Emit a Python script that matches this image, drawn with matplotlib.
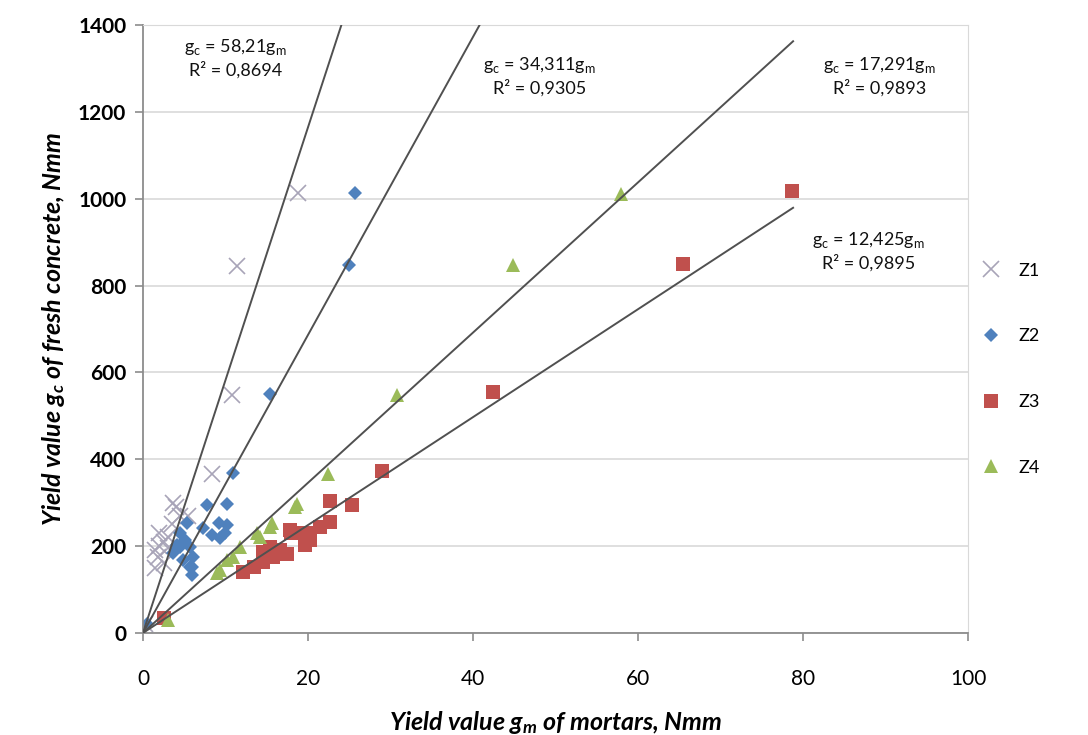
import numpy as np
import matplotlib.pyplot as plt

plt.rcParams['font.family'] = ['Lato', 'DejaVu Sans']
plt.rcParams['mathtext.fontset'] = 'custom'
plt.rcParams['mathtext.rm'] = 'Lato'
plt.rcParams['mathtext.it'] = 'Lato:italic:bold'
plt.rcParams['mathtext.bf'] = 'Lato:bold'

# Z1
z1_x = [18.8, 11.4, 10.8, 8.4, 3.6, 1.5, 1.8, 2.0, 2.5, 2.0, 3.0, 3.5, 4.5, 5.5, 4.0, 1.5, 2.5, 3.0, 0.3]
z1_y = [1013, 845, 548, 366, 299, 150, 175, 200, 210, 230, 220, 250, 270, 270, 290, 190, 160, 195, 20]
# Z2
z2_x = [25.7, 25.0, 15.4, 10.9, 7.8, 10.2, 9.2, 10.2, 8.4, 9.3, 10.0, 7.3, 5.3, 4.5, 4.1, 5.7,
        6.1, 5.7, 5.9, 4.8, 3.6, 4.5, 5.1, 6.0, 0.5]
z2_y = [1013, 848, 550, 368, 295, 297, 253, 249, 226, 219, 230, 242, 253, 230, 203, 198,
        175, 152, 134, 168, 184, 198, 214, 152, 20]
# Z3
z3_x = [78.7, 65.5, 42.4, 29.0, 25.3, 22.7, 22.7, 21.5, 19.9, 18.0, 19.6, 16.6, 15.8, 14.6,
        14.6, 13.4, 12.1, 19.0, 20.2, 17.8, 17.4, 15.4, 2.5]
z3_y = [1018, 850, 555, 373, 295, 304, 255, 245, 230, 230, 203, 191, 176, 187,
        164, 153, 140, 230, 214, 237, 183, 198, 35]
# Z4
z4_x = [58.0, 44.8, 30.8, 22.4, 18.7, 18.4, 15.6, 15.4, 14.2, 13.8, 11.8, 10.9, 10.2, 9.3, 9.0, 3.0]
z4_y = [1010, 847, 548, 365, 298, 290, 253, 245, 222, 230, 198, 175, 168, 145, 138, 30]

slopes = [58.21, 34.311, 17.291, 12.425]
eq_labels = [r'g$_\mathrm{c}$ = 58,21g$_\mathrm{m}$' + '\nR² = 0,8694',
             r'g$_\mathrm{c}$ = 34,311g$_\mathrm{m}$' + '\nR² = 0,9305',
             r'g$_\mathrm{c}$ = 17,291g$_\mathrm{m}$' + '\nR² = 0,9893',
             r'g$_\mathrm{c}$ = 12,425g$_\mathrm{m}$' + '\nR² = 0,9895']
eq_pos = [(11.2, 1324), (48.1, 1283), (89.3, 1283), (87.9, 880)]

fig = plt.figure(figsize=(10.88, 7.35), dpi=100)
ax = fig.add_axes([0.1314, 0.1388, 0.7583, 0.8272])

xs = np.array([0, 78.8])
for s in slopes:
    ax.plot(xs, s * xs, color='#505050', lw=1.4, zorder=3)

ax.plot(z1_x, z1_y, 'x', color='#A8A4B8', ms=11, mew=1.2, label='Z1', zorder=2)
ax.plot(z2_x, z2_y, 'D', color='#4F81BD', ms=7.5, mew=0, label='Z2', zorder=2)
ax.plot(z3_x, z3_y, 's', color='#C0504D', ms=9.5, mew=0, label='Z3', zorder=2)
ax.plot(z4_x, z4_y, '^', color='#9BBB59', ms=9.5, mew=0, label='Z4', zorder=2)

for lab, (px, py) in zip(eq_labels, eq_pos):
    ax.text(px, py, lab, ha='center', va='center', fontsize=13, color='#111111',
            linespacing=1.3, zorder=4)

ax.set_xlim(0, 100)
ax.set_ylim(0, 1400)
ax.set_xticks(np.arange(0, 101, 20))
ax.set_yticks(np.arange(0, 1401, 200))
ax.yaxis.grid(True, color='#D9D9D9', lw=1.2)
ax.set_axisbelow(True)
for sp in ['top', 'right']:
    ax.spines[sp].set_color('#D9D9D9')
for sp in ['left', 'bottom']:
    ax.spines[sp].set_color('#8C8C8C')
    ax.spines[sp].set_linewidth(1.3)
ax.tick_params(axis='both', colors='#8C8C8C', length=6, width=1.2)
ax.tick_params(axis='x', labelcolor='black', labelsize=15, pad=20)
ax.tick_params(axis='y', labelcolor='black', labelsize=15, pad=6)
for t in ax.get_yticklabels():
    t.set_fontweight('bold')

ax.set_xlabel(r'Yield value g$_m$ of mortars, Nmm', fontsize=18, fontweight='bold',
              style='italic', labelpad=14)
ax.set_ylabel(r'Yield value g$_c$ of fresh concrete, Nmm', fontsize=18, fontweight='bold',
              style='italic', labelpad=8)

ax.legend(loc='upper left', bbox_to_anchor=(1.0, 0.63), frameon=False, fontsize=13,
          labelspacing=2.75, handlelength=1.2, handletextpad=0.9, borderaxespad=0.3)

fig.savefig('out.png', dpi=100)
